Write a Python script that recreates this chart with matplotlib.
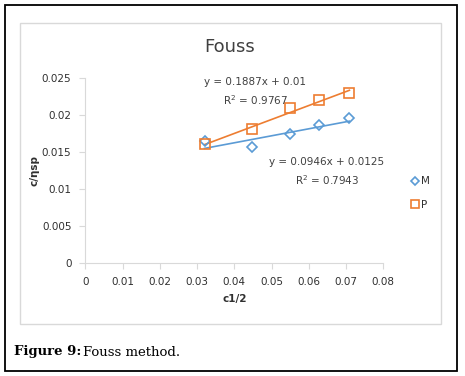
import matplotlib.pyplot as plt
import matplotlib.patches as patches
import numpy as np

# data
x_vals = [0.032, 0.0448, 0.055, 0.0628, 0.0709]
m_vals = [0.0165, 0.0157, 0.0175, 0.0187, 0.0196]
p_vals = [0.0161, 0.0181, 0.0210, 0.0221, 0.0230]
m_fit = (0.0946, 0.0125)
p_fit = (0.1887, 0.01)
m_label = 'y = 0.0946x + 0.0125\nR$^2$ = 0.7943'
p_label = 'y = 0.1887x + 0.01\nR$^2$ = 0.9767'

blue = '#5B9BD5'
orange = '#ED7D31'
grey = '#d9d9d9'
W, H = 465, 376

fig = plt.figure(figsize=(W/100, H/100), dpi=100)

def fx(px):
	return px / W

def fy(py):
	return 1 - py / H

# outer black frame and inner chart frame
fig.patches.append(patches.Rectangle((fx(4.5), fy(371)), fx(452), (367-0.5)/H, transform=fig.transFigure,
	fill=False, edgecolor='black', linewidth=1.3))
fig.patches.append(patches.Rectangle((fx(19.5), fy(324)), fx(421), 301/H, transform=fig.transFigure,
	fill=False, edgecolor='#d9d9d9', linewidth=1.0))

ax = fig.add_axes([fx(85.3), fy(263.3), 298/W, 185/H])
xs = np.array(x_vals)
ax.plot(xs, m_fit[0]*xs + m_fit[1], color=blue, linewidth=1.2)
ax.plot(xs, p_fit[0]*xs + p_fit[1], color=orange, linewidth=1.2)
ax.plot(x_vals, m_vals, linestyle='none', marker='D', markersize=5, markerfacecolor='none',
	markeredgecolor=blue, markeredgewidth=1.2, label='M')
ax.plot(x_vals, p_vals, linestyle='none', marker='s', markersize=7, markerfacecolor='none',
	markeredgecolor=orange, markeredgewidth=1.2, label='P')

ax.set_xlim(0, 0.08)
ax.set_ylim(0, 0.025)
ax.set_xticks(np.arange(0, 0.081, 0.01))
ax.set_xticklabels(['0', '0.01', '0.02', '0.03', '0.04', '0.05', '0.06', '0.07', '0.08'])
ax.set_yticks(np.arange(0, 0.0251, 0.005))
ax.set_yticklabels(['0', '0.005', '0.01', '0.015', '0.02', '0.025'])
ax.tick_params(axis='both', colors=grey, labelcolor='#303030', labelsize=7.5, length=4, width=0.8)
ax.tick_params(axis='x', pad=6)
ax.tick_params(axis='y', pad=6)
for s in ['top', 'right']:
	ax.spines[s].set_visible(False)
for s in ['left', 'bottom']:
	ax.spines[s].set_color(grey)
ax.set_xlabel('c1/2', fontsize=7.5, fontweight='bold', color='#303030', labelpad=5)
ax.set_ylabel('c/ηsp', fontsize=7.5, fontweight='bold', color='#303030', labelpad=2)

fig.text(fx(230), fy(47), 'Fouss', ha='center', va='center', fontsize=13, color='#404040')
fig.text(fx(255), fy(92), p_label, ha='center', va='center', fontsize=7.5, color='#404040',
	linespacing=1.5)
fig.text(fx(327), fy(172), m_label, ha='center', va='center', fontsize=7.5, color='#404040',
	linespacing=1.5)

ax.legend(loc='center left', bbox_to_anchor=(fx(402), fy(193)), bbox_transform=fig.transFigure,
	frameon=False, fontsize=7.5, handlelength=0.6, handletextpad=0.3, labelspacing=1.3,
	labelcolor='#303030', markerscale=0.85)

fig.text(fx(14), fy(352), 'Figure 9:', ha='left', va='center', fontsize=9.5,
	fontweight='bold', family='DejaVu Serif')
fig.text(fx(82.5), fy(352), 'Fouss method.', ha='left', va='center', fontsize=9.5,
	family='DejaVu Serif')

plt.savefig('out.png', dpi=100)
